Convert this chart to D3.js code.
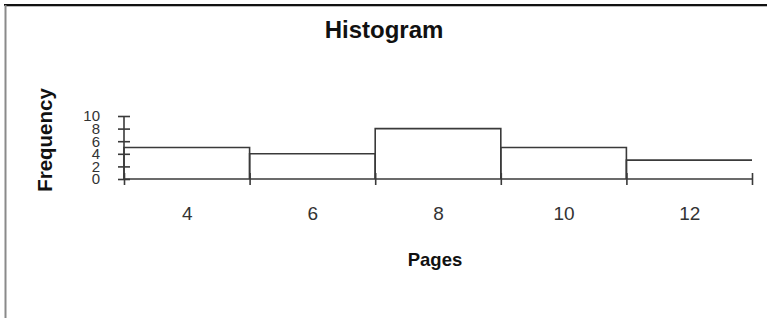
<!DOCTYPE html>
<html>
<head>
<meta charset="utf-8">
<script src="https://cdn.jsdelivr.net/npm/d3@7"></script>
<style>
  body { margin: 0; background: #fff; }
  svg { display: block; font-family: "Liberation Sans", Arial, sans-serif; }
</style>
</head>
<body>
<script>
// datos del histograma
var binEdges = [3, 5, 7, 9, 11, 13]
var frequencies = [5, 4, 8, 5, 3]
var xLabels = [4, 6, 8, 10, 12]
var yTicks = [0, 2, 4, 6, 8, 10]

var width = 767
var height = 318
var margin = { top: 116, bottom: 139, left: 124, right: 15 }
var ink = "#3a3a3a"

var svg = d3.select("body").append("svg")
  .attr("width", width)
  .attr("height", height)

// marco de la imagen (arriba y a la izquierda)
svg.append("line").attr("x1", 4).attr("x2", width).attr("y1", 5).attr("y2", 5)
  .attr("stroke", "#111").attr("stroke-width", 2)
svg.append("line").attr("x1", 6).attr("x2", width).attr("y1", 6.5).attr("y2", 6.5)
  .attr("stroke", "#bbb").attr("stroke-width", 1)
svg.append("line").attr("x1", 5.5).attr("x2", 5.5).attr("y1", 5).attr("y2", height)
  .attr("stroke", "#8a8a8a").attr("stroke-width", 2)

var x = d3.scaleLinear()
  .domain([binEdges[0], binEdges[binEdges.length - 1]])
  .range([margin.left, width - margin.right])

var y = d3.scaleLinear()
  .domain([0, 10])
  .range([height - margin.bottom, margin.top])

// barras: borde izquierdo, techo y borde derecho (menos la ultima)
var bins = frequencies.map(function (f, i) {
  return { x0: binEdges[i], x1: binEdges[i + 1], f: f, last: i === frequencies.length - 1 }
})

var gBars = svg.append("g")
  .attr("fill", "none")
  .attr("stroke", ink)
  .attr("stroke-width", 1.6)

gBars.selectAll("path")
  .data(bins)
  .enter()
  .append("path")
  .attr("d", function (d) {
    var p = d3.path()
    p.moveTo(x(d.x0), y(0))
    p.lineTo(x(d.x0), y(d.f))
    p.lineTo(x(d.x1), y(d.f))
    if (!d.last) p.lineTo(x(d.x1), y(0))
    return p.toString()
  })

// eje X: marcas en los bordes de las clases
var ejeXMarcas = d3.axisBottom(x)
  .tickValues(binEdges)
  .tickSize(6)
  .tickFormat("")

var gX = svg.append("g")
  .attr("transform", "translate(0," + y(0) + ")")
  .call(ejeXMarcas)
gX.select(".domain").remove()
gX.selectAll(".tick line").attr("y1", -6).attr("stroke", ink).attr("stroke-width", 1.6)
gX.append("line")
  .attr("x1", x.range()[0]).attr("x2", x.range()[1])
  .attr("stroke", ink).attr("stroke-width", 1.6)

// eje X: etiquetas centradas en las clases
var ejeXEtiquetas = d3.axisBottom(x)
  .tickValues(xLabels)
  .tickSize(0)
  .tickPadding(28)

var gXL = svg.append("g")
  .attr("transform", "translate(0," + y(0) + ")")
  .call(ejeXEtiquetas)
gXL.select(".domain").remove()
gXL.selectAll("text")
  .attr("font-family", "Liberation Sans, Arial, sans-serif")
  .attr("font-size", 19)
  .attr("fill", "#333")

// eje Y
var ejeY = d3.axisLeft(y)
  .tickValues(yTicks)
  .tickSize(6)
  .tickPadding(18)

var gY = svg.append("g")
  .attr("transform", "translate(" + x(binEdges[0]) + ",0)")
  .call(ejeY)
gY.select(".domain").remove()
gY.selectAll(".tick line").attr("x2", -6).attr("x1", 6).attr("stroke", ink).attr("stroke-width", 1.6)
gY.append("line")
  .attr("y1", y(0)).attr("y2", y(10))
  .attr("stroke", ink).attr("stroke-width", 1.6)
gY.selectAll("text")
  .attr("font-family", "Liberation Sans, Arial, sans-serif")
  .attr("font-size", 15)
  .attr("fill", "#333")

// titulos
svg.append("text")
  .attr("x", 384)
  .attr("y", 38)
  .attr("text-anchor", "middle")
  .attr("font-size", 24)
  .attr("font-weight", "bold")
  .attr("fill", "#111")
  .text("Histogram")

svg.append("text")
  .attr("x", 435)
  .attr("y", 266)
  .attr("text-anchor", "middle")
  .attr("font-size", 18.5)
  .attr("font-weight", "bold")
  .attr("fill", "#111")
  .text("Pages")

svg.append("text")
  .attr("transform", "translate(52,140) rotate(-90)")
  .attr("text-anchor", "middle")
  .attr("font-size", 20.5)
  .attr("font-weight", "bold")
  .attr("fill", "#111")
  .text("Frequency")
</script>
</body>
</html>
